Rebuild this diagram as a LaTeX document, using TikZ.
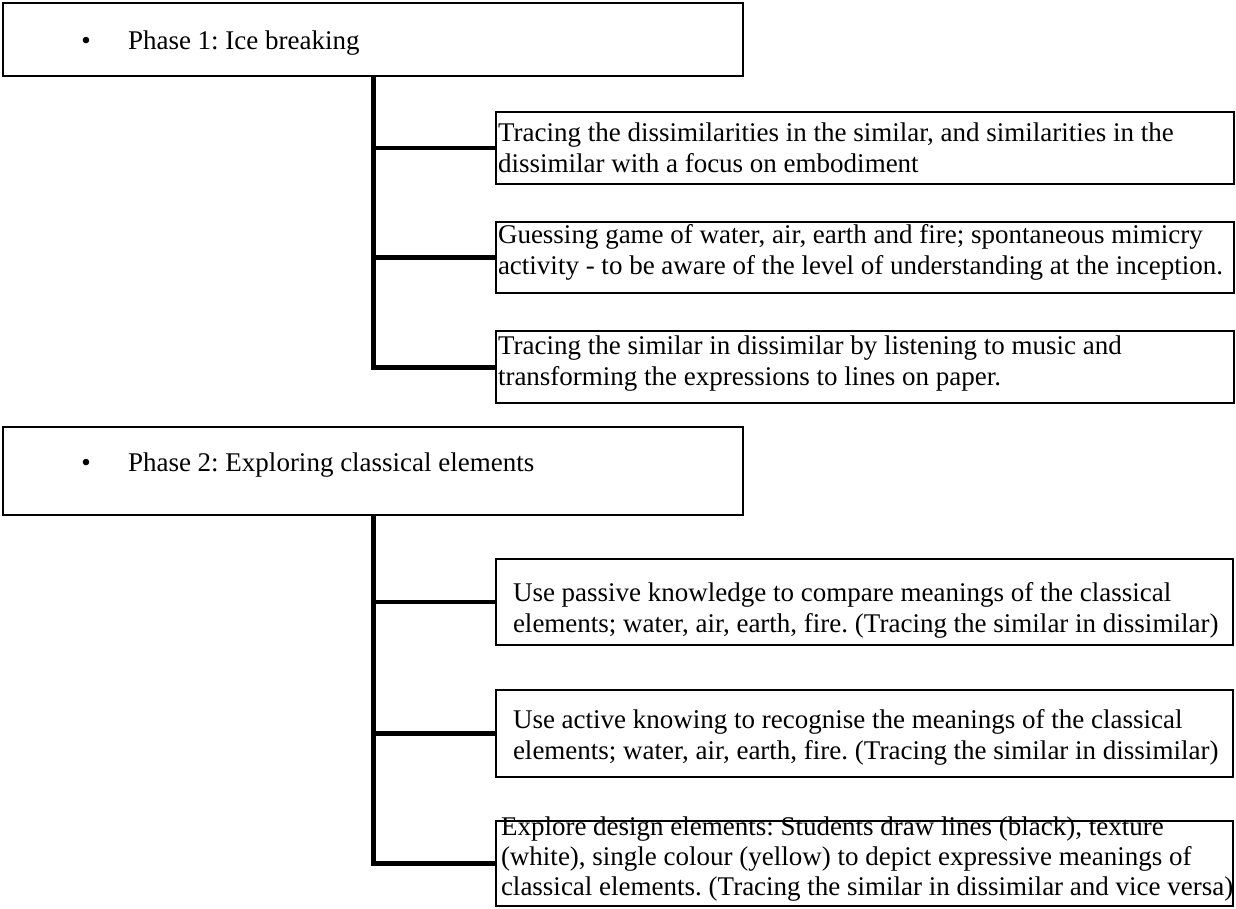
\documentclass[tikz,border=0pt]{standalone}
\usepackage{fontspec}
\setmainfont{Liberation Serif}
\frenchspacing
\newcommand\fsz{\fontsize{13.5pt}{15pt}\selectfont\frenchspacing}
\begin{document}
\begin{tikzpicture}[x=0.5pt,y=-0.5pt,
  bx/.style 2 args={draw=black, line width=0.85pt, fill=white, anchor=north west,
    inner sep=0pt, outer sep=0pt, minimum width=#1*0.5pt, minimum height=#2*0.5pt},
  ln/.style={anchor=base west, inner sep=0pt, outer sep=0pt, font=\fsz},
  blt/.style={anchor=base, inner sep=0pt, outer sep=0pt, font=\fsz},
  trunk/.style={line width=2.5pt, line join=miter},
  twig/.style={line width=2.2pt}]
\useasboundingbox[fill=white] (0,0) rectangle (1236,909);

% boxes
\node[bx={740}{73}] (p1) at (3,3) {};
\node[bx={738}{72}] (a1) at (496,112) {};
\node[bx={738}{71}] (a2) at (496,222) {};
\node[bx={738}{72}] (a3) at (496,331) {};
\node[bx={740}{88}] (p2) at (3,427) {};
\node[bx={737}{86}] (b1) at (496,559) {};
\node[bx={737}{87}] (b2) at (496,690) {};
\node[bx={737}{85}] (b3) at (496,821) {};

% connectors phase 1
\draw[trunk] (p1.south) -- (p1.south |- a3.west) -- (a3.west);
\draw[twig] (p1.south |- a1.west) -- (a1.west);
\draw[twig] (p1.south |- a2.west) -- (a2.west);
% connectors phase 2
\draw[trunk] (p2.south) -- (p2.south |- b3.west) -- (b3.west);
\draw[twig] (p2.south |- b1.west) -- (b1.west);
\draw[twig] (p2.south |- b2.west) -- (b2.west);

% phase titles
\node[blt] (p1dot) at (86,49.5) {•};
\node[ln] (p1txt) at (128,49.5) {Phase 1: Ice breaking};
\node[blt] (p2dot) at (86,471) {•};
\node[ln] (p2txt) at (128,471) {Phase 2: Exploring classical elements};

% phase 1 children
\node[ln] (a1l1) at (498,142) {Tracing the dissimilarities in the similar, and similarities in the};
\node[ln] (a1l2) at (498,173) {dissimilar with a focus on embodiment};
\node[ln] (a2l1) at (498,243) {Guessing game of water, air, earth and fire; spontaneous mimicry};
\node[ln] (a2l2) at (498,274) {activity - to be aware of the level of understanding at the inception.};
\node[ln] (a3l1) at (498,354) {Tracing the similar in dissimilar by listening to music and};
\node[ln] (a3l2) at (498,385) {transforming the expressions to lines on paper.};

% phase 2 children
\node[ln] (b1l1) at (513,601) {Use passive knowledge to compare meanings of the classical};
\node[ln] (b1l2) at (513,632) {elements; water, air, earth, fire. (Tracing the similar in dissimilar)};
\node[ln] (b2l1) at (513,728) {Use active knowing to recognise the meanings of the classical};
\node[ln] (b2l2) at (513,759) {elements; water, air, earth, fire. (Tracing the similar in dissimilar)};
\node[ln] (b3l1) at (501,835) {Explore design elements: Students draw lines (black), texture};
\node[ln] (b3l2) at (501,865) {(white), single colour (yellow) to depict expressive meanings of};
\node[ln] (b3l3) at (501,895) {classical elements. (Tracing the similar in dissimilar and vice versa)};
\end{tikzpicture}
\end{document}
